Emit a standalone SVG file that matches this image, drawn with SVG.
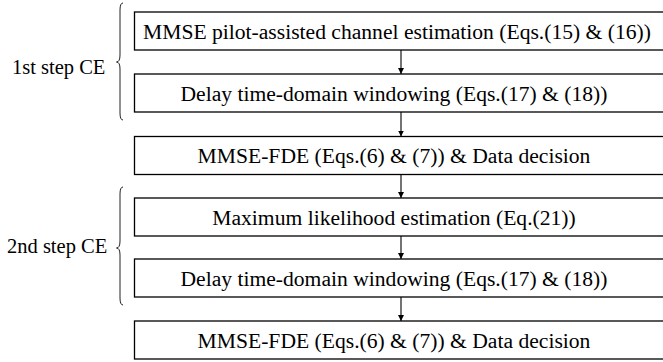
<svg xmlns="http://www.w3.org/2000/svg" width="663" height="362" viewBox="0 0 663 362">
<defs>
<style>
.box{fill:#fff;stroke:#000;stroke-width:1.3}
.t{font-family:"Liberation Serif","Times New Roman",serif;font-size:21.6px;fill:#000;text-anchor:middle}
.lbl{font-family:"Liberation Serif","Times New Roman",serif;font-size:20.5px;fill:#000}
.br{fill:none;stroke:#222;stroke-width:1}
.c{stroke:#000;stroke-width:1.1;fill:none}
</style>
<marker id="ah" viewBox="0 0 10 10" refX="10" refY="5" markerWidth="6" markerHeight="6" markerUnits="userSpaceOnUse" orient="auto">
<path d="M0,0 L10,5 L0,10 z" fill="#000"/>
</marker>
</defs>
<rect width="663" height="362" fill="#fff"/>
<g id="connectors">
<line class="c" x1="401" y1="50" x2="401" y2="74" marker-end="url(#ah)"/>
<line class="c" x1="401" y1="112" x2="401" y2="136.5" marker-end="url(#ah)"/>
<line class="c" x1="401" y1="174.5" x2="401" y2="198" marker-end="url(#ah)"/>
<line class="c" x1="401" y1="236" x2="401" y2="259" marker-end="url(#ah)"/>
<line class="c" x1="401" y1="297" x2="401" y2="321" marker-end="url(#ah)"/>
</g>
<g id="n1"><rect class="box" x="134.5" y="12" width="540" height="38"/><text class="t" x="397" y="38.5">MMSE pilot-assisted channel estimation (Eqs.(15) &amp; (16))</text></g>
<g id="n2"><rect class="box" x="134.5" y="74" width="540" height="38"/><text class="t" x="394" y="100.5">Delay time-domain windowing (Eqs.(17) &amp; (18))</text></g>
<g id="n3"><rect class="box" x="134.5" y="136.5" width="540" height="38"/><text class="t" x="394" y="163">MMSE-FDE (Eqs.(6) &amp; (7)) &amp; Data decision</text></g>
<g id="n4"><rect class="box" x="134.5" y="198" width="540" height="38"/><text class="t" x="394" y="224.5">Maximum likelihood estimation (Eq.(21))</text></g>
<g id="n5"><rect class="box" x="134.5" y="259" width="540" height="38"/><text class="t" x="394" y="285.5">Delay time-domain windowing (Eqs.(17) &amp; (18))</text></g>
<g id="n6"><rect class="box" x="134.5" y="321" width="540" height="38"/><text class="t" x="394" y="347.5">MMSE-FDE (Eqs.(6) &amp; (7)) &amp; Data decision</text></g>
<g id="brace1">
<path class="br" d="M123,3 Q120,3 120,10 L120,55 Q120,62 116.5,62 Q120,62 120,69 L120,113 Q120,120 123,120"/>
<text class="lbl" x="12" y="74">1st step CE</text>
</g>
<g id="brace2">
<path class="br" d="M123,187 Q120,187 120,194 L120,241 Q120,248 116.5,248 Q120,248 120,255 L120,298 Q120,305 123,305"/>
<text class="lbl" x="7" y="253">2nd step CE</text>
</g>
</svg>
